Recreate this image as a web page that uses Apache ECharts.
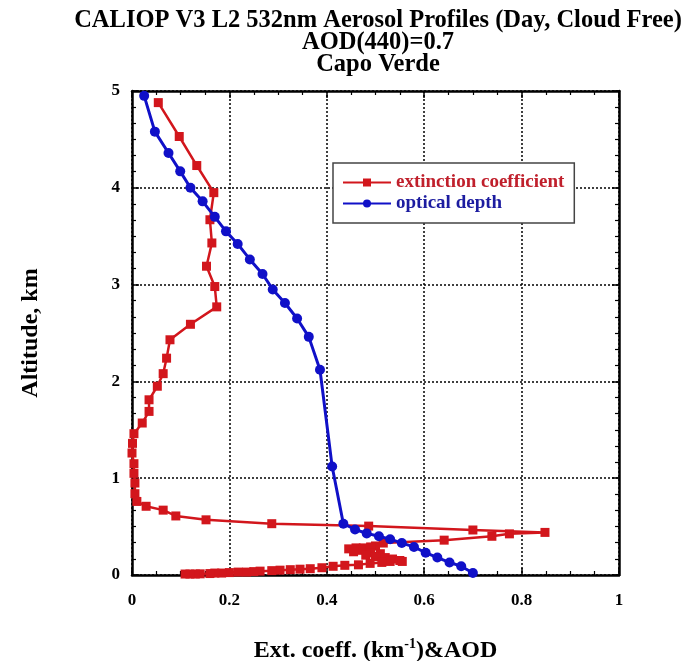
<!DOCTYPE html>
<html>
<head>
<meta charset="utf-8">
<script src="https://cdn.jsdelivr.net/npm/echarts@6/dist/echarts.min.js"></script>
<style>
html,body{margin:0;padding:0;background:#fff;}
#chart{width:696px;height:661px;}
</style>
</head>
<body>
<div id="chart"></div>
<script>
// Extinction coefficient profile (km^-1) vs altitude (km)
var extVal = [0.054,0.097,0.133,0.168,0.160,0.164,0.153,0.170,0.174,0.120,0.078,0.071,0.064,0.052,0.035,0.035,0.021,0.004,0.001,0.000,0.004,0.004,0.006,0.006,0.010,0.029,0.064,0.090,0.152,0.287,0.486,0.700,0.848,0.775,0.739,0.641,0.516,0.500,0.460,0.445,0.475,0.490,0.470,0.455,0.490,0.510,0.480,0.500,0.520,0.535,0.550,0.555,0.530,0.513,0.489,0.465,0.437,0.413,0.390,0.366,0.345,0.325,0.304,0.287,0.263,0.250,0.235,0.218,0.200,0.184,0.170,0.160,0.140,0.130,0.119,0.109];
var extAlt = [4.88,4.53,4.23,3.95,3.67,3.43,3.19,2.98,2.77,2.59,2.43,2.24,2.08,1.95,1.81,1.69,1.57,1.46,1.36,1.26,1.15,1.05,0.95,0.84,0.76,0.71,0.67,0.61,0.57,0.53,0.505,0.465,0.44,0.425,0.40,0.36,0.33,0.30,0.28,0.27,0.28,0.29,0.255,0.24,0.23,0.22,0.205,0.19,0.18,0.165,0.15,0.14,0.14,0.13,0.12,0.105,0.10,0.09,0.075,0.065,0.06,0.055,0.05,0.045,0.04,0.035,0.03,0.03,0.025,0.02,0.02,0.015,0.012,0.01,0.01,0.01];
// Optical depth profile vs altitude (km)
var odVal = [0.025,0.047,0.075,0.099,0.120,0.145,0.170,0.193,0.217,0.242,0.268,0.289,0.314,0.339,0.363,0.386,0.411,0.434,0.458,0.482,0.507,0.530,0.554,0.579,0.603,0.627,0.652,0.676,0.700];
var odAlt = [4.95,4.58,4.36,4.17,4.00,3.86,3.70,3.55,3.42,3.26,3.11,2.95,2.81,2.65,2.46,2.12,1.12,0.53,0.47,0.43,0.40,0.37,0.33,0.29,0.23,0.18,0.13,0.09,0.02];
var xTicks = [0,0.2,0.4,0.6,0.8,1];
var yTicks = [0,1,2,3,4,5];
var titleLines = ['CALIOP V3 L2 532nm Aerosol Profiles (Day, Cloud Free)','AOD(440)=0.7','Capo Verde'];
var seriesNames = ['extinction coefficient','optical depth'];

var FONT = '"Liberation Serif","DejaVu Serif",serif';
var RED = '#d2161c', BLUE = '#1010c8';

function pairs(xs, ys){ return xs.map(function(v,i){ return [v, ys[i]]; }); }

function axisCommon(pos, show){
  return {
    type:'value', position: pos,
    axisLine:{show:true, onZero:false, lineStyle:{color:'#000', width:2.5}},
    axisTick:{show:true, inside:true, length:7, lineStyle:{color:'#000', width:1.5}},
    minorTick:{show:true, length:4, lineStyle:{color:'#000', width:1.2}},
    splitLine:{show:show, lineStyle:{color:'#000', type:[2,2], width:1.5}},
    minorSplitLine:{show:false},
    axisLabel:{show:show, color:'#000', fontFamily:FONT, fontWeight:'bold', fontSize:17}
  };
}

var xb = axisCommon('bottom', true);
xb.min = 0; xb.max = 1; xb.interval = 0.2; xb.minorTick.splitNumber = 4;
xb.axisLabel.margin = 17;
xb.axisLabel.formatter = function(v){ return xTicks.indexOf(Math.round(v*10)/10) >= 0 ? String(Math.round(v*10)/10) : ''; };
xb.name = '{a|Ext. coeff. (km}{s|-1}{a|)&AOD}';
xb.nameLocation = 'middle'; xb.nameGap = 62;
xb.nameTextStyle = {rich:{
  a:{fontFamily:FONT, fontWeight:'bold', fontSize:24, color:'#000', lineHeight:28},
  s:{fontFamily:FONT, fontWeight:'bold', fontSize:14, color:'#000', verticalAlign:'top', lineHeight:28}
}};
var xt = axisCommon('top', false);
xt.min = 0; xt.max = 1; xt.interval = 0.2; xt.minorTick.splitNumber = 4;

var yl = axisCommon('left', true);
yl.min = 0; yl.max = 5; yl.interval = 1; yl.minorTick.splitNumber = 6;
yl.axisLabel.margin = 12;
yl.axisLabel.formatter = function(v){ return yTicks.indexOf(v) >= 0 ? String(v) : ''; };
yl.name = 'Altitude, km'; yl.nameLocation = 'middle'; yl.nameGap = 89; yl.nameRotate = 90;
yl.nameTextStyle = {fontFamily:FONT, fontWeight:'bold', fontSize:24, color:'#000'};
var yr = axisCommon('right', false);
yr.min = 0; yr.max = 5; yr.interval = 1; yr.minorTick.splitNumber = 6;

var option = {
  backgroundColor:'#fff',
  animation:false,
  title: titleLines.map(function(t,i){
    return {text:t, left:378, top:9+i*22, textAlign:'center', padding:0,
      textStyle:{fontFamily:FONT, fontWeight:'bold', fontSize:24.5, lineHeight:24, color:'#000'}};
  }),
  grid:{left:132, right:77, top:91, bottom:86, containLabel:false, outerBoundsMode:'none'},
  legend:{
    orient:'vertical', left:333, top:163,
    padding:[10,10,10,9], itemGap:2, itemWidth:48, itemHeight:10,
    backgroundColor:'#fff', borderColor:'#444', borderWidth:1.5,
    textStyle:{fontFamily:FONT, fontWeight:'bold', fontSize:19, lineHeight:19},
    data:[
      {name:seriesNames[0], textStyle:{color:'#c0202c'}},
      {name:seriesNames[1], textStyle:{color:'#1c1ca0'}}
    ]
  },
  xAxis:[xb, xt],
  yAxis:[yl, yr],
  series:[
    {name:seriesNames[0], type:'line', xAxisIndex:0, yAxisIndex:0,
     data:pairs(extVal, extAlt), symbol:'rect', symbolSize:9, showSymbol:true,
     color:RED, lineStyle:{color:RED, width:2.5}, itemStyle:{color:RED}, z:2},
    {name:seriesNames[1], type:'line', xAxisIndex:0, yAxisIndex:0,
     data:pairs(odVal, odAlt), symbol:'circle', symbolSize:10, showSymbol:true,
     color:BLUE, lineStyle:{color:BLUE, width:3}, itemStyle:{color:BLUE}, z:3}
  ]
};
var chart = echarts.init(document.getElementById('chart'), null, {renderer:'canvas'});
chart.setOption(option);
</script>
</body>
</html>
